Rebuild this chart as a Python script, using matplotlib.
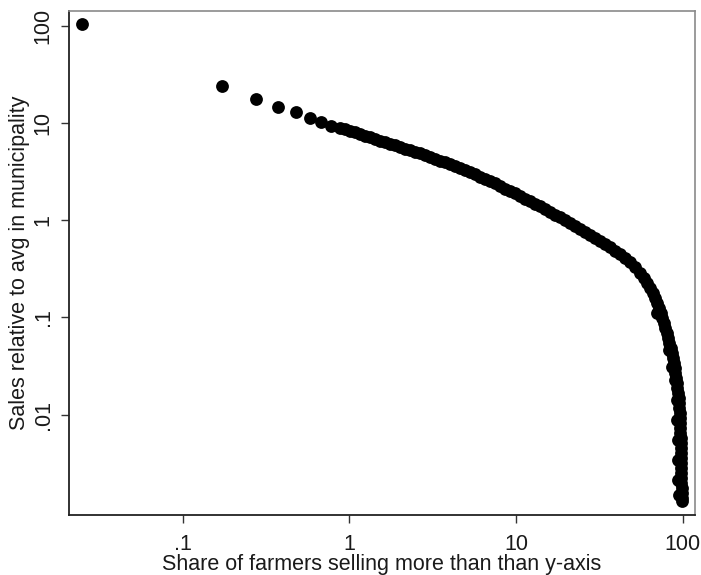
"""
Farm sales concentration: share of farmers selling more than a given
multiple of the municipality average (log-log scatter).
"""

import matplotlib
matplotlib.use("Agg")
import matplotlib.pyplot as plt

plt.rcParams["font.family"] = ["Liberation Sans", "DejaVu Sans"]

# ── data: share of farmers (%) vs sales relative to municipal average ──
share_pct = [
    0.02498, 0.1721, 0.2752, 0.3746, 0.4763, 0.5779, 0.6727, 0.7754, 0.8782,
    0.941, 1.008, 1.080, 1.158, 1.240, 1.329, 1.424, 1.526, 1.635, 1.752,
    1.878, 2.012, 2.156, 2.310, 2.475, 2.652, 2.842, 3.045, 3.263, 3.497,
    3.747, 4.015, 4.302, 4.610, 4.939, 5.293, 5.671, 6.077, 6.512, 6.978,
    7.477, 8.012, 8.585, 9.193, 9.85, 10.55, 11.31, 12.12, 12.98, 13.91,
    14.91, 15.97, 17.12, 18.34, 19.65, 21.06, 22.57, 24.17, 25.90, 27.76,
    29.74, 31.87, 34.15, 36.59, 39.21, 42.01, 45.02, 48.24, 51.69, 55.38,
    58.2, 61.1, 63.96, 65.98, 68.11, 70.12, 72.18, 73.89, 75.44, 77.03,
    78.64, 80.18, 81.85, 83.34, 84.85, 86.39, 87.35, 88.31, 89.42, 90.29,
    91.16, 91.92, 92.81, 93.71, 94.49, 95.08, 95.41, 95.74, 96.07, 96.34,
    96.61, 96.87, 97.14, 97.41, 97.63, 97.77, 97.91, 98.04, 98.17, 98.24,
    98.29, 98.35, 98.38, 98.42, 98.49, 98.49,
    # stragglers on the inner edge of the steep tail
    70.0, 82.65, 86.14, 90.41, 92.3, 92.93, 93.58, 93.97, 94.23, 94.49,
]
sales_rel = [
    104.6, 23.91, 17.70, 14.75, 12.91, 11.28, 10.34, 9.40, 8.97,
    8.63, 8.31, 8.01, 7.71, 7.42, 7.14, 6.88, 6.62, 6.38, 6.12,
    5.90, 5.68, 5.47, 5.25, 5.05, 4.87, 4.67, 4.48, 4.30, 4.12,
    3.94, 3.77, 3.61, 3.45, 3.28, 3.12, 2.97, 2.82, 2.67, 2.52,
    2.39, 2.25, 2.12, 2.00, 1.89, 1.78, 1.67, 1.57, 1.47, 1.39,
    1.30, 1.22, 1.14, 1.07, 1.00, 0.933, 0.872, 0.814, 0.758, 0.706,
    0.658, 0.612, 0.567, 0.525, 0.486, 0.450, 0.409, 0.372, 0.327, 0.287,
    0.2549, 0.2264, 0.2011, 0.1787, 0.1587, 0.1410, 0.1253, 0.1113, 0.0989, 0.0878,
    0.0780, 0.0693, 0.0615, 0.0547, 0.0486, 0.0431, 0.0383, 0.0340, 0.0302, 0.0269,
    0.0238, 0.0212, 0.0188, 0.0167, 0.01485, 0.01319, 0.01172, 0.01041, 0.00925, 0.00822,
    0.00730, 0.00648, 0.00576, 0.00511, 0.00454, 0.00404, 0.00358, 0.00318, 0.00283, 0.00251,
    0.00223, 0.00198, 0.00176, 0.00156, 0.00139, 0.001295,
    0.1113, 0.04630, 0.03096, 0.02275, 0.01416, 0.008820, 0.005493, 0.003420, 0.002129, 0.001492,
]

x_ticks = [0.1, 1, 10, 100]
x_ticklabels = [".1", "1", "10", "100"]
y_ticks = [0.01, 0.1, 1, 10, 100]
y_ticklabels = [".01", ".1", "1", "10", "100"]

fig = plt.figure(figsize=(7.01, 5.75), dpi=100)
ax = fig.add_axes([0.0984, 0.1049, 0.8930, 0.8760])

ax.scatter(share_pct, sales_rel, s=85, color="black", linewidths=0, zorder=3)

ax.set_xscale("log")
ax.set_yscale("log")
ax.set_xlim(0.0208, 118.5)
ax.set_ylim(0.000931, 142.7)

ax.set_xticks(x_ticks)
ax.set_xticklabels(x_ticklabels)
ax.set_yticks(y_ticks)
ax.set_yticklabels(y_ticklabels, rotation=90, va="center")
ax.minorticks_off()

ax.tick_params(axis="both", direction="out", length=6, width=1.0,
               color="#333333", labelsize=15.5, labelcolor="#1a1a1a")
ax.tick_params(axis="x", pad=8)
ax.tick_params(axis="y", pad=5)

for side in ["left", "bottom"]:
    ax.spines[side].set_color("#222222")
    ax.spines[side].set_linewidth(1.3)
for side in ["top", "right"]:
    ax.spines[side].set_color("#8a8a8a")
    ax.spines[side].set_linewidth(1.2)

ax.set_xlabel("Share of farmers selling more than than y-axis",
              fontsize=15.5, color="#1a1a1a", labelpad=-1)
ax.set_ylabel("Sales relative to avg in municipality",
              fontsize=15.5, color="#1a1a1a", labelpad=2)

fig.savefig("out.png", dpi=100, facecolor="white")
